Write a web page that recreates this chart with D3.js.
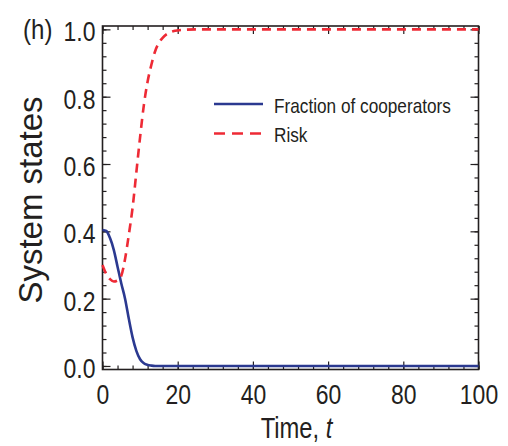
<!DOCTYPE html>
<html>
<head>
<meta charset="utf-8">
<script src="https://cdn.jsdelivr.net/npm/d3@7"></script>
<style>
  html, body { margin: 0; padding: 0; background: #fff; }
  svg { display: block; }
  text { fill: #231f20; }
</style>
</head>
<body>
<svg id="chart" width="508" height="446"></svg>
<script>
// ---- data ----
const time = [0,1,2,3,4,5,6,7,8,9,10,11,12,13,14,15,16,17,18,19,20,22,25,30,40,50,60,70,80,90,100];
const cooperators = [0.404,0.401,0.380,0.345,0.295,0.245,0.200,0.140,0.085,0.045,0.020,0.008,0.003,0.001,0,0,0,0,0,0,0,0,0,0,0,0,0,0,0,0,0];
const risk = [0.300,0.273,0.258,0.251,0.254,0.268,0.318,0.390,0.470,0.575,0.680,0.775,0.845,0.895,0.935,0.960,0.975,0.985,0.991,0.995,0.997,0.999,1.0,1.0,1.0,1.0,1.0,1.0,1.0,1.0,1.0];
const seriesNames = ["Fraction of cooperators", "Risk"];
const xMajorTicks = [0,20,40,60,80,100];
const yMajorTicks = [0.0,0.2,0.4,0.6,0.8,1.0];
const xMinorTicks = d3.range(0, 101, 4);
const yMinorTicks = d3.range(0, 1.0001, 0.04).map(v => +v.toFixed(2));
const xTitle = "Time, ";
const xTitleItalic = "t";
const yTitle = "System states";
const panelLabel = "(h)";

// ---- layout ----
const L = 102.5, R = 478.5, T = 26, B = 369.5;
const ink = "#231f20";
const blue = "#2b3990";
const red = "#ee2a35";
const font = "'Liberation Sans', Arial, Helvetica, sans-serif";
const SX = 0.82; // horizontal condensing (reference uses a narrow sans)

const svg = d3.select("#chart");
const x = d3.scaleLinear().domain([0, 100]).range([L, R]);
const y = d3.scaleLinear().domain([-0.0105, 1.01]).range([B, T]);

function styleAxis(g, showLabels) {
  g.select(".domain").remove();
  g.selectAll(".tick line").attr("stroke", ink).attr("stroke-width", 1.2);
  if (!showLabels) g.selectAll(".tick text").remove();
}

// bottom axis
svg.append("g").attr("transform", `translate(0,${B})`)
  .call(d3.axisBottom(x).tickValues(xMinorTicks).tickSize(-4).tickFormat(""))
  .call(g => styleAxis(g, false));
svg.append("g").attr("transform", `translate(0,${B})`)
  .call(d3.axisBottom(x).tickValues(xMajorTicks).tickSize(-8).tickFormat(d3.format("d")))
  .call(g => styleAxis(g, true))
  .call(g => g.selectAll(".tick text")
    .attr("font-family", font).attr("font-size", 28).attr("fill", ink)
    .attr("text-anchor", "middle")
    .attr("x", 0).attr("y", 0).attr("dy", 0)
    .attr("transform", `translate(0,34) scale(${SX},1)`));
// top axis
svg.append("g").attr("transform", `translate(0,${T})`)
  .call(d3.axisTop(x).tickValues(xMinorTicks).tickSize(-4).tickFormat(""))
  .call(g => styleAxis(g, false));
svg.append("g").attr("transform", `translate(0,${T})`)
  .call(d3.axisTop(x).tickValues(xMajorTicks).tickSize(-8).tickFormat(""))
  .call(g => styleAxis(g, false));
// left axis
svg.append("g").attr("transform", `translate(${L},0)`)
  .call(d3.axisLeft(y).tickValues(yMinorTicks).tickSize(-4).tickFormat(""))
  .call(g => styleAxis(g, false));
svg.append("g").attr("transform", `translate(${L},0)`)
  .call(d3.axisLeft(y).tickValues(yMajorTicks).tickSize(-8).tickFormat(d3.format(".1f")))
  .call(g => styleAxis(g, true))
  .call(g => g.selectAll(".tick text")
    .attr("font-family", font).attr("font-size", 28).attr("fill", ink)
    .attr("text-anchor", "end")
    .attr("x", 0).attr("y", 0).attr("dy", "0.36em")
    .attr("transform", `translate(-7,1.5) scale(${SX},1)`));
// right axis
svg.append("g").attr("transform", `translate(${R},0)`)
  .call(d3.axisRight(y).tickValues(yMinorTicks).tickSize(-4).tickFormat(""))
  .call(g => styleAxis(g, false));
svg.append("g").attr("transform", `translate(${R},0)`)
  .call(d3.axisRight(y).tickValues(yMajorTicks).tickSize(-8).tickFormat(""))
  .call(g => styleAxis(g, false));

// frame
svg.append("rect").attr("x", L).attr("y", T).attr("width", R - L).attr("height", B - T)
  .attr("fill", "none").attr("stroke", ink).attr("stroke-width", 1.6);

// lines
const line = d3.line().x((d, i) => x(time[i])).y(d => y(d)).curve(d3.curveMonotoneX);
svg.append("path").datum(cooperators).attr("d", line)
  .attr("fill", "none").attr("stroke", blue).attr("stroke-width", 2.6);
svg.append("path").datum(risk).attr("d", line)
  .attr("fill", "none").attr("stroke", red).attr("stroke-width", 2.6)
  .attr("stroke-dasharray", "9,6");

// legend
const leg = svg.append("g");
const legItems = [
  {name: seriesNames[0], color: blue, dash: null, y: 104},
  {name: seriesNames[1], color: red, dash: "11,7", y: 133.5}
];
legItems.forEach(it => {
  leg.append("line").attr("x1", 214).attr("x2", 263).attr("y1", it.y).attr("y2", it.y)
    .attr("stroke", it.color).attr("stroke-width", 2.6)
    .attr("stroke-dasharray", it.dash);
  leg.append("text").attr("transform", `translate(274,${it.y + 8.5}) scale(${SX},1)`)
    .attr("font-family", font).attr("font-size", 21).attr("fill", ink)
    .text(it.name);
});

// axis titles
const xt = svg.append("text").attr("transform", `translate(${(L + R) / 2 + 6},438) scale(${SX},1)`)
  .attr("text-anchor", "middle").attr("font-family", font).attr("font-size", 29).attr("fill", ink);
xt.append("tspan").text(xTitle);
xt.append("tspan").attr("font-style", "italic").text(xTitleItalic);

svg.append("text").attr("transform", "translate(42,200) rotate(-90)")
  .attr("text-anchor", "middle").attr("font-family", font).attr("font-size", 33).attr("fill", ink)
  .text(yTitle);

svg.append("text").attr("transform", `translate(23,39) scale(0.86,1)`)
  .attr("font-family", font).attr("font-size", 28).attr("fill", ink)
  .text(panelLabel);
</script>
</body>
</html>
